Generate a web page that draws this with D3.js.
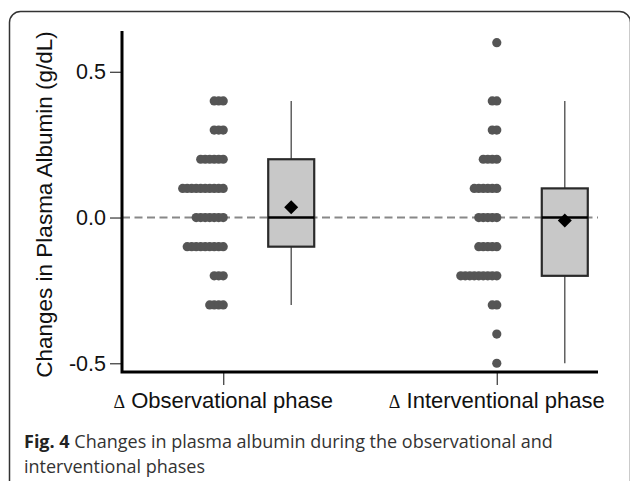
<!DOCTYPE html>
<html>
  <head>
    <meta charset="utf-8">
    <style type="text/css">
      body { margin: 0; background: #fff; }
      svg { display: block; }
      .tick text { font-family: "Liberation Sans", Arial, sans-serif; fill: #111; }
      .caption { font-family: "Open Sans", sans-serif; fill: #333; }
    </style>
  </head>
  <body>
    <div id="chart"></div>
    <script src="https://d3js.org/d3.v7.min.js"></script>
    <script>
      const width = 630, height = 481;

      // value levels (g/dL change) and how many patients sit at each level
      const levels = [0.6, 0.5, 0.4, 0.3, 0.2, 0.1, 0.0, -0.1, -0.2, -0.3, -0.4, -0.5];
      const obsCounts = [0, 0, 3, 3, 6, 10, 7, 9, 3, 4, 0, 0];
      const intCounts = [1, 0, 2, 2, 4, 6, 5, 5, 9, 2, 1, 1];

      const phases = ["Observational phase", "Interventional phase"];
      const yTicks = [-0.5, 0.0, 0.5];
      const yTickLabels = ["-0.5", "0.0", "0.5"];
      const yTitle = "Changes in Plasma Albumin (g/dL)";
      const captionBold = "Fig. 4";
      const captionLines = [" Changes in plasma albumin during the observational and", "interventional phases"];

      const groups = [obsCounts, intCounts].map((counts, i) => {
        const values = [];
        counts.forEach((c, j) => { for (let k = 0; k < c; k += 1) values.push(levels[j]); });
        values.sort(d3.ascending);
        const q1 = d3.quantile(values, 0.25);
        const q3 = d3.quantile(values, 0.75);
        const iqr = q3 - q1;
        const lo = d3.min(values.filter((v) => v >= q1 - 1.5 * iqr - 1e-9));
        const hi = d3.max(values.filter((v) => v <= q3 + 1.5 * iqr + 1e-9));
        return {
          phase: phases[i], counts, values,
          q1, q3, median: d3.median(values), mean: d3.mean(values), lo, hi
        };
      });

      const svg = d3.select("#chart").append("svg")
        .attr("width", width)
        .attr("height", height);

      // figure frame
      svg.append("rect")
        .attr("x", 9.5).attr("y", 11.5)
        .attr("width", 621).attr("height", 520)
        .attr("rx", 11)
        .attr("fill", "none")
        .attr("stroke", "#333")
        .attr("stroke-width", 1.5);

      const plotL = 122, plotR = 598, plotT = 31, plotB = 372;

      const x = d3.scalePoint().domain(phases).range([plotL, plotR]).padding(0.37);
      const y = d3.scaleLinear().domain([-0.53, 0.64]).range([plotB, plotT]);

      const boxOffset = 68, boxW = 46, dotR = 4.6, dotStep = 4.5;

      // reference line at zero
      svg.append("line")
        .attr("x1", plotL).attr("x2", plotR)
        .attr("y1", y(0)).attr("y2", y(0))
        .attr("stroke", "#888")
        .attr("stroke-width", 2)
        .attr("stroke-dasharray", "8,4.5");

      // dot columns, stacked leftwards from the tick
      groups.forEach((g) => {
        const dots = [];
        g.counts.forEach((c, j) => {
          for (let k = 0; k < c; k += 1) dots.push({ v: levels[j], k });
        });
        svg.append("g").selectAll("circle").data(dots).enter().append("circle")
          .attr("cx", (d) => x(g.phase) - d.k * dotStep)
          .attr("cy", (d) => y(d.v))
          .attr("r", dotR)
          .attr("fill", "#555");
      });

      // box plots
      const boxes = svg.append("g").selectAll("g").data(groups).enter().append("g")
        .attr("transform", (d) => `translate(${x(d.phase) + boxOffset},0)`);

      boxes.append("line")
        .attr("y1", (d) => y(d.hi)).attr("y2", (d) => y(d.lo))
        .attr("stroke", "#555").attr("stroke-width", 1.4);

      boxes.append("rect")
        .attr("x", -boxW / 2)
        .attr("y", (d) => y(d.q3))
        .attr("width", boxW)
        .attr("height", (d) => y(d.q1) - y(d.q3))
        .attr("fill", "#c8c8c8")
        .attr("stroke", "#2a2a2a")
        .attr("stroke-width", 2.2);

      boxes.append("line")
        .attr("x1", -boxW / 2).attr("x2", boxW / 2)
        .attr("y1", (d) => y(d.median)).attr("y2", (d) => y(d.median))
        .attr("stroke", "#000").attr("stroke-width", 2.5);

      boxes.append("path")
        .attr("d", d3.symbol(d3.symbolSquare, 98))
        .attr("transform", (d) => `translate(0,${y(d.mean)}) rotate(45)`)
        .attr("fill", "#000");

      // y axis
      const yAxis = svg.append("g")
        .attr("transform", `translate(${plotL},0)`)
        .call(d3.axisLeft(y).tickValues(yTicks).tickSize(12).tickPadding(4)
          .tickFormat((d, i) => yTickLabels[i]));
      yAxis.select(".domain").remove();
      yAxis.selectAll(".tick line").attr("stroke", "#444").attr("stroke-width", 1.3);
      yAxis.selectAll(".tick text").attr("font-size", 21.5);

      // x axis
      const xAxis = svg.append("g")
        .attr("transform", `translate(0,${plotB})`)
        .call(d3.axisBottom(x).tickSize(13).tickFormat(""));
      xAxis.select(".domain").remove();
      xAxis.selectAll(".tick line").attr("stroke", "#444").attr("stroke-width", 1.3);

      const xl = svg.append("g").selectAll("text").data(phases).enter().append("text")
        .attr("x", (d) => x(d))
        .attr("y", 408)
        .attr("text-anchor", "middle")
        .attr("fill", "#111")
        .style("font-family", "'Liberation Sans', Arial, sans-serif")
        .style("font-size", "22px");
      xl.append("tspan")
        .style("font-family", "'Liberation Serif', 'Times New Roman', serif")
        .style("font-size", "18px")
        .text("\u0394");
      xl.append("tspan").text((d) => " " + d);

      // axis lines drawn heavy
      svg.append("path")
        .attr("d", `M${plotL},${plotT}V${plotB}H${plotR}`)
        .attr("fill", "none")
        .attr("stroke", "#000")
        .attr("stroke-width", 3);

      svg.append("text")
        .attr("transform", `translate(52,${(plotT + plotB) / 2 + 3}) rotate(-90)`)
        .attr("text-anchor", "middle")
        .attr("fill", "#111")
        .style("font-family", "'Liberation Sans', Arial, sans-serif")
        .style("font-size", "22.5px")
        .text(yTitle);

      // caption
      const cap = svg.append("text")
        .attr("class", "caption")
        .attr("x", 24).attr("y", 448)
        .style("font-size", "18px");
      cap.append("tspan").attr("font-weight", "bold").attr("fill", "#222").text(captionBold);
      cap.append("tspan").text(captionLines[0]);
      svg.append("text")
        .attr("class", "caption")
        .attr("x", 24).attr("y", 473)
        .style("font-size", "18px")
        .text(captionLines[1]);
    </script>
  </body>
</html>
